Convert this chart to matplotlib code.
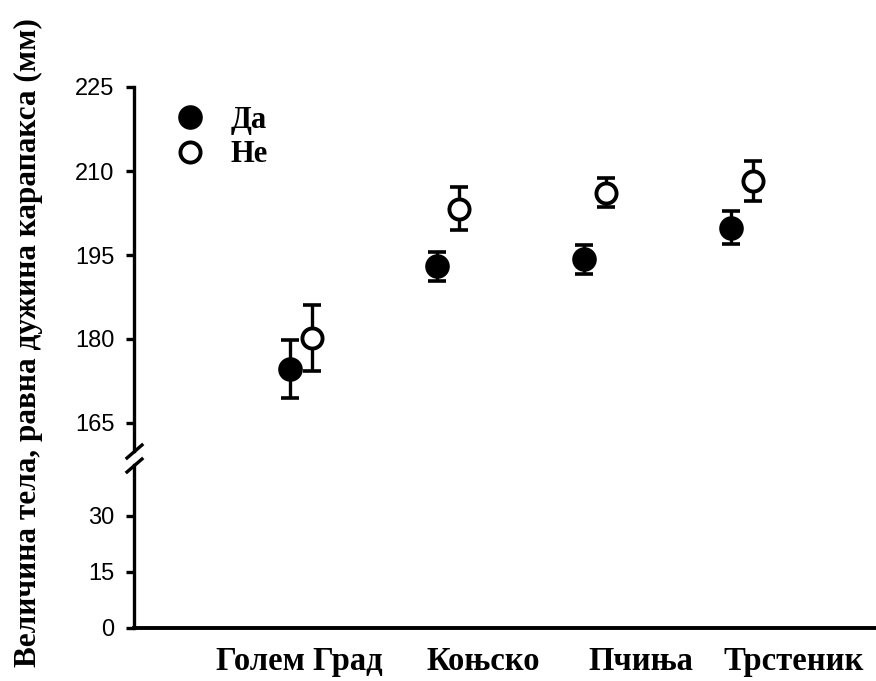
import matplotlib
matplotlib.use('Agg')
import matplotlib.pyplot as plt
from matplotlib.lines import Line2D

# data
sites = ['Голем Град', 'Коњско', 'Пчиња', 'Трстеник']
yes_mean = [174.6, 193.0, 194.2, 199.9]
yes_err = [5.2, 2.6, 2.6, 3.0]
no_mean = [180.2, 203.3, 206.1, 208.2]
no_err = [5.9, 3.8, 2.6, 3.6]
series_labels = ['Да', 'Не']
upper_ticks = [165, 180, 195, 210, 225]
lower_ticks = [0, 15, 30]

W, H = 876, 681
serif = 'Liberation Serif'
sans = 'Liberation Sans'

fig = plt.figure(figsize=(W / 100, H / 100), dpi=100)

def fy(px):
    return 1 - px / H

left = 134 / W
ax_top = fig.add_axes([left, fy(451), 1 - left, fy(87) - fy(451)])
ax_bot = fig.add_axes([left, fy(628), 1 - left, fy(465) - fy(628)])

x = list(range(1, len(sites) + 1))
off = 0.075
xs_yes = [v - off for v in x]
xs_no = [v + off for v in x]

eb_kw = dict(fmt='none', ecolor='black', elinewidth=2.4, capsize=6.5, capthick=2.6, zorder=2)
ax_top.errorbar(xs_yes, yes_mean, yerr=yes_err, **eb_kw)
ax_top.errorbar(xs_no, no_mean, yerr=no_err, **eb_kw)
ax_top.plot(xs_yes, yes_mean, 'o', ms=15.5, mfc='black', mec='black', mew=2.2,
            ls='none', label=series_labels[0], zorder=3)
ax_top.plot(xs_no, no_mean, 'o', ms=14.5, mfc='white', mec='black', mew=2.8,
            ls='none', label=series_labels[1], zorder=3)

for ax in (ax_top, ax_bot):
    ax.set_xlim(-0.136, 4.91)
    ax.spines['top'].set_visible(False)
    ax.spines['right'].set_visible(False)
    ax.spines['left'].set_linewidth(2.4)
    ax.tick_params(axis='y', direction='out', length=6, width=2.4, pad=8,
                   labelsize=17)

ax_top.set_ylim(160, 225)
ax_top.set_yticks(upper_ticks)
ax_top.spines['bottom'].set_visible(False)
ax_top.set_xticks([])

ax_bot.set_ylim(0, 43.6)
ax_bot.set_yticks(lower_ticks)
ax_bot.spines['bottom'].set_linewidth(2.8)
# category labels sit a bit right of the point pairs in the original
label_x = [0.99, 2.24, 3.31, 4.35]
ax_bot.set_xticks(label_x)
ax_bot.set_xticklabels(sites, fontfamily=serif, fontweight='bold', fontsize=23.5)
ax_bot.tick_params(axis='x', length=0, pad=13)

for ax in (ax_top, ax_bot):
    for lab in ax.get_yticklabels():
        lab.set_family(sans)

leg = ax_top.legend(loc='upper left', bbox_to_anchor=(0.038, 0.982), frameon=False,
                    prop={'family': serif, 'weight': 'bold', 'size': 22},
                    handletextpad=0.85, labelspacing=0.18, handlelength=1.0,
                    borderaxespad=0)

# axis break marks
for y0 in (458, 472):
    fig.add_artist(Line2D([127 / W, 142 / W], [fy(y0), fy(y0 - 13)],
                          color='black', lw=2.4))

fig.text(28 / W, fy(343), 'Величина тела, равна дужина карапакса (мм)',
         rotation=90, ha='center', va='center', family=serif,
         fontweight='bold', fontsize=22.5)

fig.savefig('out.png', dpi=100)
